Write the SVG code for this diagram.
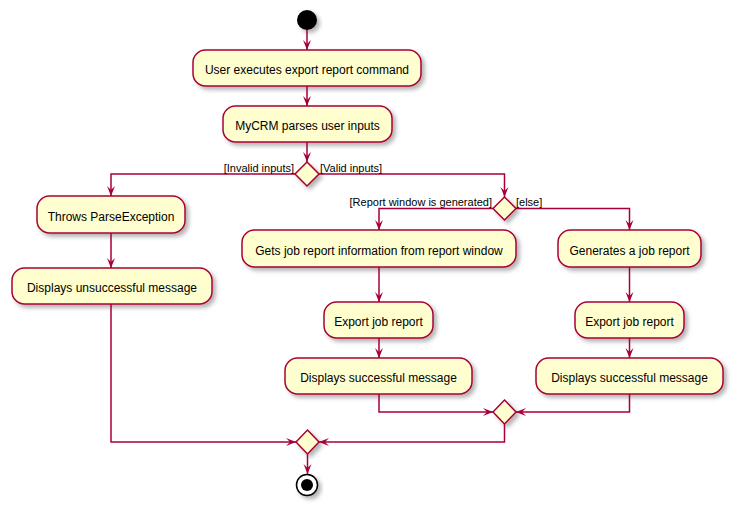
<svg xmlns="http://www.w3.org/2000/svg" width="739" height="512" viewBox="0 0 739 512">
<defs>
<filter id="sh" x="-20%" y="-20%" width="150%" height="160%">
<feDropShadow dx="3" dy="3" stdDeviation="2" flood-color="#000000" flood-opacity="0.3"/>
</filter>
<marker id="ah" viewBox="0 0 10 10" refX="10" refY="5" markerWidth="10" markerHeight="10" markerUnits="userSpaceOnUse" orient="auto">
<path d="M0,1 L10,5 L0,9 L4,5 Z" fill="#A80036"/>
</marker>
</defs>
<style>
.act rect{fill:#FEFECE;stroke:#A80036;stroke-width:1.5;filter:url(#sh)}
.act text{font-family:"Liberation Sans",Arial,sans-serif;font-size:12px;fill:#000;text-anchor:middle}
.dia polygon{fill:#FEFECE;stroke:#A80036;stroke-width:1.5;filter:url(#sh)}
.lbl{font-family:"Liberation Sans",Arial,sans-serif;font-size:11px;fill:#000}
.edges path{fill:none;stroke:#A80036;stroke-width:1.5;marker-end:url(#ah)}
</style>
<rect width="739" height="512" fill="#FFFFFF"/>

<g id="start"><circle cx="307" cy="20" r="10" fill="#000" filter="url(#sh)"/></g>

<g id="n1" class="act"><rect x="193" y="50" width="228" height="36" rx="12.5"/><text x="307" y="74">User executes export report command</text></g>
<g id="n2" class="act"><rect x="223" y="106" width="169" height="36" rx="12.5"/><text x="307.5" y="130">MyCRM parses user inputs</text></g>
<g id="d1" class="dia"><polygon points="307,162 319,174 307,186 295,174"/></g>
<g id="n3" class="act"><rect x="37" y="196" width="148" height="37" rx="12.5"/><text x="111" y="221">Throws ParseException</text></g>
<g id="n4" class="act"><rect x="12" y="268" width="200" height="36" rx="12.5"/><text x="112" y="292">Displays unsuccessful message</text></g>
<g id="d2" class="dia"><polygon points="504.5,197 516,208.5 504.5,220 493,208.5"/></g>
<g id="n5" class="act"><rect x="242" y="230" width="274" height="37" rx="12.5"/><text x="379" y="255">Gets job report information from report window</text></g>
<g id="n6" class="act"><rect x="558" y="230" width="143" height="37" rx="12.5"/><text x="629.5" y="255">Generates a job report</text></g>
<g id="n7" class="act"><rect x="324" y="302" width="109" height="36" rx="12.5"/><text x="378.5" y="326">Export job report</text></g>
<g id="n8" class="act"><rect x="575" y="302" width="109" height="36" rx="12.5"/><text x="629.5" y="326">Export job report</text></g>
<g id="n9" class="act"><rect x="285" y="358" width="187" height="36" rx="12.5"/><text x="378.5" y="382">Displays successful message</text></g>
<g id="n10" class="act"><rect x="536" y="358" width="187" height="36" rx="12.5"/><text x="629.5" y="382">Displays successful message</text></g>
<g id="m2" class="dia"><polygon points="504.5,400 516,412 504.5,424 493,412"/></g>
<g id="m1" class="dia"><polygon points="307.5,430 319,442 307.5,454 296,442"/></g>
<g id="end"><circle cx="307" cy="485" r="10.5" fill="#FFFFFF" stroke="#000" stroke-width="1.5" filter="url(#sh)"/><circle cx="307" cy="485" r="6" fill="#000"/></g>

<g id="edges" class="edges">
<path d="M307,30 L307,50"/>
<path d="M307,86 L307,106"/>
<path d="M307,142 L307,162"/>
<path d="M295,174 L111,174 L111,196"/>
<path d="M319,174 L504.5,174 L504.5,197"/>
<path d="M111,233 L111,268"/>
<path d="M493,208.5 L379,208.5 L379,230"/>
<path d="M516,208.5 L629.5,208.5 L629.5,230"/>
<path d="M379,267 L379,302"/>
<path d="M629.5,267 L629.5,302"/>
<path d="M379,338 L379,358"/>
<path d="M629.5,338 L629.5,358"/>
<path d="M379,394 L379,412 L493,412"/>
<path d="M629.5,394 L629.5,412 L516,412"/>
<path d="M504.5,424 L504.5,442 L319,442"/>
<path d="M111,304 L111,442 L296,442"/>
<path d="M307.5,454 L307.5,474"/>
</g>

<g id="labels">
<text class="lbl" x="294" y="172" text-anchor="end">[Invalid inputs]</text>
<text class="lbl" x="320" y="172">[Valid inputs]</text>
<text class="lbl" x="492" y="206" text-anchor="end">[Report window is generated]</text>
<text class="lbl" x="516" y="206">[else]</text>
</g>
</svg>
